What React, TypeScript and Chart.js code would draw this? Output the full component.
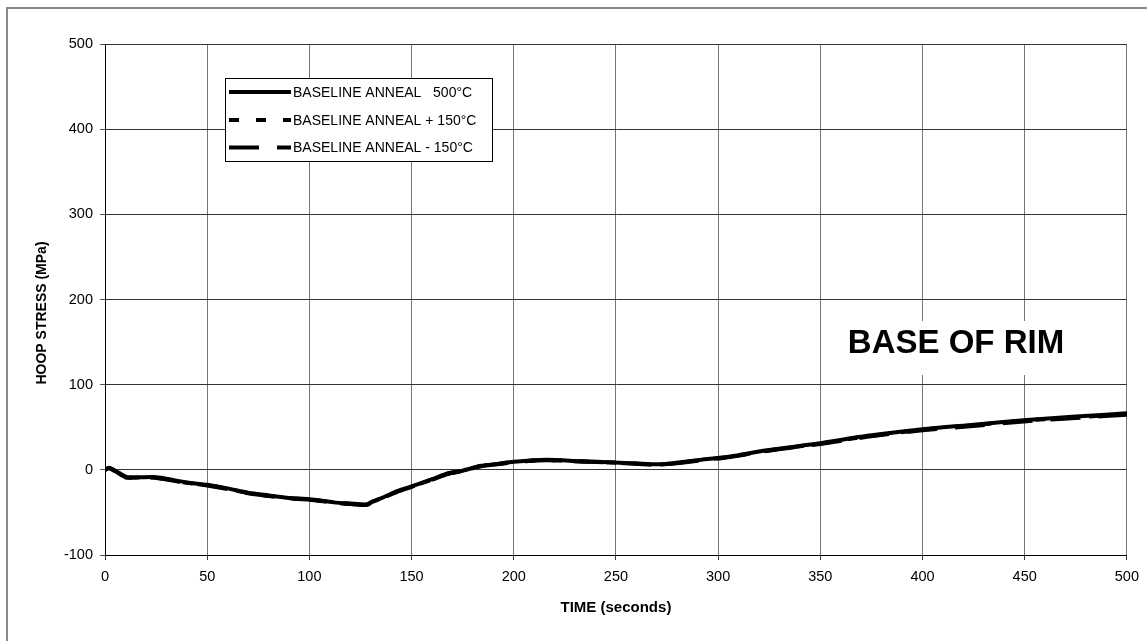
import React, { useEffect, useRef } from "react";
import { Chart, registerables } from "chart.js";

Chart.register(...registerables);

const TIME = [0, 2, 5, 10, 12, 24, 30, 40, 50, 60, 70, 80, 90, 100, 112, 120, 128, 131, 135, 143, 150, 160, 168, 175, 184, 192, 200, 216, 232, 249, 260, 272, 290, 306, 322, 340, 350, 373, 400, 425, 451, 475, 500];
const BASELINE = [0, 2.5, -1, -8, -9, -8.5, -10.5, -14.8, -17.6, -21.8, -26.8, -30, -33, -34.4, -38.2, -39.5, -40.5, -37, -33.5, -25, -19.5, -11, -4, -1, 4.7, 7, 9.4, 11.7, 10.2, 8.7, 7.5, 6.5, 11.4, 15.7, 22.3, 28.1, 31.3, 39.9, 47.7, 53, 58.6, 62.5, 66.5];
const PLUS150 = [0, 2, -1.5, -8.5, -9, -9, -11, -15.2, -18, -22.3, -27.3, -30.5, -33.4, -34.8, -38.6, -40, -41, -37.5, -33.8, -25.4, -19.8, -11.4, -4.3, -1.3, 4.4, 6.8, 9.2, 11.4, 10, 8.5, 7.2, 6.2, 11, 15.3, 21.8, 27.6, 30.8, 39.3, 47, 52.4, 58, 61.6, 65.5];
const MINUS150 = [0, 1.8, -1.8, -8.8, -9.4, -9.4, -11.3, -15.5, -18.3, -22.5, -27.6, -30.8, -33.6, -35, -38.8, -40.2, -41.2, -37.8, -34, -25.8, -20.1, -11.6, -4.6, -1.5, 4.2, 6.5, 9, 11.2, 9.8, 8.3, 7, 6, 10.7, 15, 21.5, 27.2, 30.4, 38.8, 46.4, 51.6, 57, 60.8, 64.8];

const SERIES_LABELS = ["BASELINE ANNEAL   500°C", "BASELINE ANNEAL + 150°C", "BASELINE ANNEAL - 150°C"];
const SERIES_DASH = [[], [10, 17], [30, 18]];
const X_TITLE = "TIME (seconds)";
const Y_TITLE = "HOOP STRESS (MPa)";
const ANNOTATION = "BASE OF RIM";

const FONT = "'Liberation Sans', Arial, sans-serif";

export default function App() {
  const ref = useRef<HTMLCanvasElement | null>(null);

  useEffect(() => {
    const canvas = ref.current;
    if (!canvas) return;
    const toPts = (arr: number[]) => TIME.map((t, i) => ({ x: t, y: arr[i] }));
    const seriesData = [BASELINE, PLUS150, MINUS150];

    const deco = {
      id: "deco",
      afterDraw(chart: any) {
        const ctx = chart.ctx;
        const ca = chart.chartArea;
        ctx.save();
        // outer border
        ctx.strokeStyle = "#8a8a8a";
        ctx.lineWidth = 2;
        ctx.strokeRect(7, 8, 1300, 800);

        // legend
        const lx = 225.5, ly = 78.5, lw = 267, lh = 83;
        ctx.fillStyle = "#fff";
        ctx.fillRect(lx, ly, lw, lh);
        ctx.strokeStyle = "#000";
        ctx.lineWidth = 1;
        ctx.strokeRect(lx, ly, lw, lh);
        const rows = [92, 120, 147.5];
        ctx.font = `14px ${FONT}`;
        ctx.textBaseline = "middle";
        ctx.textAlign = "left";
        rows.forEach((ry, i) => {
          ctx.beginPath();
          ctx.setLineDash(SERIES_DASH[i]);
          ctx.lineWidth = 4;
          ctx.strokeStyle = "#000";
          ctx.lineCap = "butt";
          ctx.moveTo(229, ry);
          ctx.lineTo(291, ry);
          ctx.stroke();
          ctx.setLineDash([]);
          ctx.fillStyle = "#000";
          ctx.fillText(SERIES_LABELS[i], 293, ry + 1);
        });

        // annotation
        ctx.fillStyle = "#fff";
        ctx.fillRect(836, 321, 240, 54);
        ctx.fillStyle = "#000";
        ctx.font = `bold 33px ${FONT}`;
        ctx.textAlign = "center";
        ctx.textBaseline = "middle";
        ctx.fillText(ANNOTATION, 956, 344);

        // axis titles
        ctx.font = `bold 15px ${FONT}`;
        ctx.textAlign = "center";
        ctx.textBaseline = "middle";
        ctx.fillText(X_TITLE, (ca.left + ca.right) / 2, 608);
        ctx.translate(42, 313);
        ctx.rotate(-Math.PI / 2);
        ctx.font = `bold 14px ${FONT}`;
        ctx.fillText(Y_TITLE, 0, 0);
        ctx.restore();
      },
    };

    const chart = new Chart(canvas, {
      type: "line",
      data: {
        datasets: seriesData.map((arr, i) => ({
          label: SERIES_LABELS[i],
          data: toPts(arr),
          borderColor: "#000",
          backgroundColor: "#000",
          borderWidth: 4,
          borderDash: SERIES_DASH[i],
          pointRadius: 0,
          tension: 0.25,
          fill: false,
        })),
      },
      options: {
        animation: false,
        responsive: false,
        devicePixelRatio: 1,
        layout: { padding: { top: 44, right: 20, left: 0, bottom: 0 } },
        plugins: { legend: { display: false }, tooltip: { enabled: false }, title: { display: false } },
        scales: {
          x: {
            type: "linear",
            min: 0,
            max: 500,
            afterFit: (s: any) => { s.height = 86; },
            ticks: { stepSize: 50, color: "#000", padding: 8, font: { family: FONT, size: 14.5 }, maxRotation: 0 },
            grid: { color: "#777", tickColor: "#333", tickLength: 5, lineWidth: 1 },
            border: { display: true, color: "#000", width: 1 },
          },
          y: {
            type: "linear",
            min: -100,
            max: 500,
            afterFit: (s: any) => { s.width = 105; },
            ticks: { stepSize: 100, color: "#000", padding: 7, font: { family: FONT, size: 14.5 } },
            grid: { color: "#333", tickColor: "#555", tickLength: 5, lineWidth: 1 },
            border: { display: true, color: "#000", width: 1 },
          },
        },
      },
      plugins: [deco],
    });
    return () => chart.destroy();
  }, []);

  return (
    <div style={{ position: "absolute", left: 0, top: 0, width: 1147, height: 641, background: "#fff" }}>
      <canvas ref={ref} width={1147} height={641} style={{ display: "block" }} />
    </div>
  );
}
